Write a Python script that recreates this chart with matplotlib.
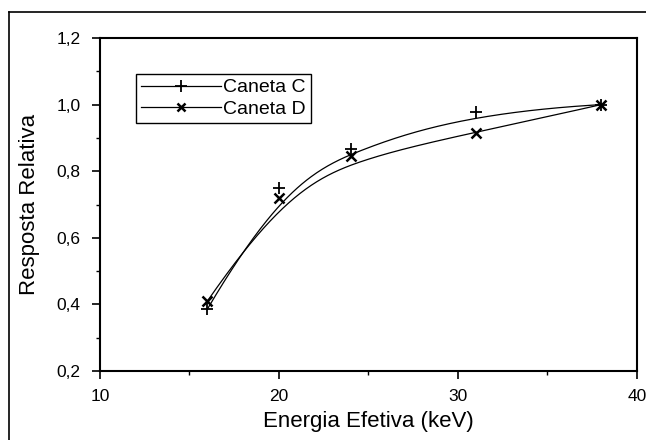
import numpy as np
import matplotlib
matplotlib.use("Agg")
import matplotlib.pyplot as plt
from matplotlib.lines import Line2D
from matplotlib.ticker import MultipleLocator, FuncFormatter

# data
energia = [16, 20, 24, 31, 38]
caneta_c = [0.386, 0.75, 0.867, 0.978, 1.0]
caneta_d = [0.41, 0.72, 0.846, 0.915, 1.0]


def bspline_curve(x, y, degree=3, n=300):
    """Clamped B-spline with the points as control points (like Origin's B-spline line)."""
    pts = np.column_stack([x, y]).astype(float)
    k = len(pts)
    inner = np.linspace(0, 1, k - degree + 1)[1:-1]
    knots = np.concatenate([np.zeros(degree + 1), inner, np.ones(degree + 1)])

    def basis(i, p, t):
        if p == 0:
            if knots[i] <= t < knots[i + 1] or (t == 1.0 and knots[i + 1] == 1.0 and knots[i] < 1.0):
                return 1.0
            return 0.0
        out = 0.0
        d1 = knots[i + p] - knots[i]
        d2 = knots[i + p + 1] - knots[i + 1]
        if d1 > 0:
            out += (t - knots[i]) / d1 * basis(i, p - 1, t)
        if d2 > 0:
            out += (knots[i + p + 1] - t) / d2 * basis(i + 1, p - 1, t)
        return out

    ts = np.linspace(0, 1, n)
    curve = np.array([sum(basis(i, degree, t) * pts[i] for i in range(k)) for t in ts])
    return curve[:, 0], curve[:, 1]


plt.rcParams['font.family'] = ['Liberation Sans', 'DejaVu Sans']

fig = plt.figure(figsize=(6.46, 4.4), dpi=100)
ax = fig.add_axes([0.1548, 0.1568, 0.8312, 0.7568])

# outer frame (cut off at right and bottom like the scan)
fig.add_artist(Line2D([0.014, 1.0], [0.973, 0.973], color='black', lw=1.2))
fig.add_artist(Line2D([0.014, 0.014], [0.0, 0.973], color='black', lw=1.2))

xs, ys = bspline_curve(energia, caneta_c)
ax.plot(xs, ys, color='black', lw=0.9)
xs, ys = bspline_curve(energia, caneta_d)
ax.plot(xs, ys, color='black', lw=0.9)
ax.plot(energia, caneta_c, ls='none', marker='+', ms=8, mew=1.3, color='black')
ax.plot(energia, caneta_d, ls='none', marker='x', ms=7, mew=1.8, color='black')

handles = [
    Line2D([], [], color='black', lw=0.9, marker='+', ms=8, mew=1.3),
    Line2D([], [], color='black', lw=0.9, marker='x', ms=6, mew=1.8),
]
leg = ax.legend(handles, ['Caneta C', 'Caneta D'], loc='upper left',
                bbox_to_anchor=(0.067, 0.892), fancybox=False, framealpha=1,
                edgecolor='black', fontsize=14, handlelength=4.1,
                handletextpad=0.15, borderpad=0.25, borderaxespad=0,
                labelspacing=0.2)
leg.get_frame().set_linewidth(1.0)

ax.set_xlim(10, 40)
ax.set_ylim(0.2, 1.2)
ax.xaxis.set_major_locator(MultipleLocator(10))
ax.xaxis.set_minor_locator(MultipleLocator(5))
ax.yaxis.set_major_locator(MultipleLocator(0.2))
ax.yaxis.set_minor_locator(MultipleLocator(0.1))
ax.yaxis.set_major_formatter(FuncFormatter(lambda v, p: f"{v:.1f}".replace('.', ',')))

ax.tick_params(which='major', direction='out', length=6, width=1.2, labelsize=12.5)
ax.tick_params(axis='y', which='major', pad=8)
ax.tick_params(axis='x', which='major', pad=7)
ax.tick_params(which='minor', direction='out', length=3, width=1.0)
for s in ax.spines.values():
    s.set_linewidth(1.5)

ax.set_xlabel('Energia Efetiva (keV)', fontsize=16, labelpad=5)
ax.set_ylabel('Resposta Relativa', fontsize=16, labelpad=12)

fig.savefig('out.png', dpi=100)
